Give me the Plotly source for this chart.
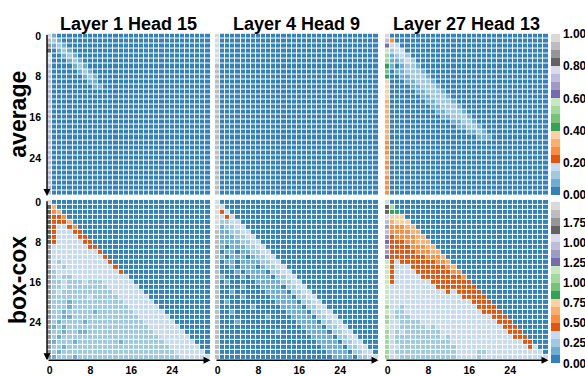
import plotly.graph_objects as go

# ---------------- data ----------------
TAB20C = ["#3182bd", "#6baed6", "#9ecae1", "#c6dbef", "#e6550d", "#fd8d3c", "#fdae6b", "#fdd0a2",
          "#31a354", "#74c476", "#a1d99b", "#c7e9c0", "#756bb1", "#9e9ac8", "#bcbddc", "#dadaeb",
          "#636363", "#969696", "#bdbdbd", "#d9d9d9"]
CODES = "0123456789abcdefghij"   # colour-bin index

col_titles = ["Layer 1 Head 15", "Layer 4 Head 9", "Layer 27 Head 13"]
row_titles = ["average", "box-cox"]
axis_ticks = [0, 8, 16, 24]
avg_range = [0.0, 1.0]
avg_ticks = [0.0, 0.2, 0.4, 0.6, 0.8, 1.0]
avg_ticktext = ["0.00", "0.20", "0.40", "0.60", "0.80", "1.00"]
bc_range = [0.0, 2.0]
bc_ticks = [0.0, 0.25, 0.5, 0.75, 1.0, 1.25, 1.5, 1.75]
bc_ticktext = ["0.00", "0.25", "0.50", "0.75", "1.00", "1.25", "1.00", "1.75"]

# rows: col0 | c1-8 | c9-16 | c17-24 | c25-31  (missing cells = bin 0)
avg_l1h15 = [
    "j 10000000", "i 21000000", "h 12100000", "g 01210000", "f 00121000", "f 00012100",
    "e 00001210", "e 00000121", "e 00000012 10000000", "e 00000001 10000000",
    "e 00000000 11000000", "e", "e", "e", "e", "e", "e", "e", "e", "e", "e", "e",
    "e", "e", "e", "e", "e", "e", "e", "e", "e", "e",
]
avg_l4h9 = [
    "j", "j", "j", "j", "j", "j", "i", "i", "i", "i", "i", "i", "i", "i", "i", "i",
    "i", "i", "i", "i", "i", "i", "i", "i", "i", "i", "i", "i", "i", "i", "i", "i",
]
avg_l27h13 = [
    "j", "e 50000000", "c 33000000", "b 23300000", "a 12320000", "a 11232000",
    "8 10122100", "9 01122210", "8 00112221", "7 00011222 10000000",
    "7 00001122 21000000", "7 00000112 22100000", "7 00000011 22210000",
    "6 00000001 12221000", "6 00000000 11222100", "6 00000000 01122210",
    "6 00000000 00112221", "6 00000000 00001122 10000000", "6 00000000 00000112 21000000",
    "6 00000000 00000001 12100000", "6 00000000 00000000 01110000",
    "5", "5", "5", "6", "5", "5", "6", "5", "5", "5", "5",
]
bc_l1h15 = [
    "j", "g 60000000", "g 56000000", "g 44500000", "g 44460000", "g 43345000",
    "g 43334400", "g 43333440", "g 43333344", "h 33333334 40000000",
    "h 33333333 34000000", "h 33333333 33400000", "h 32333333 33340000",
    "h 33233333 33334000", "h 23333333 33333400", "h 23223333 33333330",
    "h 22322232 22333333", "h 22322222 22233333 30000000",
    "h 23222222 22223333 33000000", "h 22222223 22222333 33300000",
    "h 22212222 22222233 33330000", "h 22212222 22222223 33333000",
    "h 22122222 12222222 33333300", "h 22112222 22222222 23333330",
    "h 21222212 22222222 22333333", "h 12122222 22222222 22233333 3000000",
    "h 22122112 22222222 22223333 3300000", "h 21222222 22222222 22222333 3330000",
    "h 12221222 22222122 22222233 3333000", "h 22122222 22222222 22222223 3333300",
    "h 21222222 22222222 22222222 3333330", "h 12221222 22222222 22222222 2333333",
]
bc_l4h9 = [
    "j", "j 30000000", "j 43000000", "j 34300000", "j 22330000", "j 12233000",
    "i 11223300", "i 11122330", "i 11112233", "i 10111223 30000000",
    "i 01101122 33000000", "i 10111012 23300000", "i 01101111 22330000",
    "i 00101110 12233000", "i 00010111 10223300", "i 10001011 11022330",
    "i 01000001 11112233", "i 00001000 11110223 30000000", "i 00100000 01111022 33000000",
    "i 00001000 00111102 23300000", "i 01000000 00011110 22330000",
    "i 00000010 00001111 02233000", "i 00100000 00000111 10223300",
    "i 00000000 01000011 11022330", "i 00010000 00000001 11102233",
    "i 00000000 00000000 11110223 3000000", "i 00000000 00010000 01111022 3300000",
    "i 00000000 00000000 00111102 2330000", "i 00000000 00000000 00011110 2233000",
    "i 00000000 00000000 00001111 0223300", "i 00000000 00000000 00000111 1022330",
    "i 00000000 00000000 00000011 1102233",
]
bc_l27h13 = [
    "j", "g a0000000", "g 88000000", "f 77700000", "e 67770000", "d 55566000",
    "e 55556600", "d 45555660", "c 44455666", "d 44445556 60000000",
    "d 44444555 66000000", "c 44444445 55600000", "b 43444444 45560000",
    "b 43334444 44456000", "b 43333444 44445500", "b 43333344 44444450",
    "b 43333333 44444444", "b 33333333 34444444 40000000", "b 33333333 33343444 44000000",
    "b 33333333 33333344 44400000", "b 33333333 33333333 44440000",
    "a 33233333 33333333 34444000", "b 32233333 33333333 33444400",
    "a 32223333 33333333 33334440", "a 33222233 33333333 33333444",
    "b 33222223 23333333 33333344 4000000", "a 32322222 22333333 33333334 4400000",
    "a 32222222 22323333 33333333 4440000", "a 32222222 22223333 33333333 3344000",
    "a 33222222 22222333 33333333 3334300", "a 32222222 22222333 32233333 3333330",
    "a 33222222 22222333 32333333 3333333",
]
panels = [avg_l1h15, avg_l4h9, avg_l27h13, bc_l1h15, bc_l4h9, bc_l27h13]
N = 32


def decode(rows, vrange):
    lo, hi = vrange
    step = (hi - lo) / len(TAB20C)
    z = []
    for s in rows:
        s = s.replace(" ", "")
        s = (s + "0" * N)[:N]
        z.append([lo + (CODES.index(ch) + 0.5) * step for ch in s])
    return z


def discrete_scale(colors):
    n = len(colors)
    sc = []
    for k, c in enumerate(colors):
        sc.append([k / n, c])
        sc.append([(k + 1) / n, c])
    return sc


# ---------------- layout geometry (pixels of a 585x376 page) ----------------
W, H = 585, 376
xdom_px = [(47, 210.5), (215, 378.5), (385, 548.5)]
ydom_px = [(30, 195), (199, 362)]
FONT = "Liberation Sans"

fig = go.Figure()
layout = dict(width=W, height=H, autosize=False, margin=dict(l=0, r=0, t=0, b=0),
              paper_bgcolor="white", plot_bgcolor="white", showlegend=False)
annotations = []

for i, rows in enumerate(panels):
    r, c = divmod(i, 3)
    ax_id = "" if i == 0 else str(i + 1)
    vr = avg_range if r == 0 else bc_range
    fig.add_trace(go.Heatmap(
        z=decode(rows, vr), x=list(range(N)), y=list(range(N)),
        coloraxis="coloraxis" if r == 0 else "coloraxis2",
        xgap=1, ygap=1, xaxis="x" + ax_id, yaxis="y" + ax_id, hoverinfo="skip"))
    x0, x1 = xdom_px[c]
    y0, y1 = ydom_px[r]
    layout["xaxis" + ax_id] = dict(
        domain=[x0 / W, x1 / W], range=[-0.5, N - 0.5], anchor="y" + ax_id,
        showgrid=False, zeroline=False, showline=False, ticks="",
        tickvals=axis_ticks, showticklabels=(r == 1), ticklabelstandoff=2,
        tickfont=dict(family=FONT, size=10.5, color="black", weight="bold"))
    layout["yaxis" + ax_id] = dict(
        domain=[1 - y1 / H, 1 - y0 / H], range=[N - 0.5, -0.5], anchor="x" + ax_id,
        showgrid=False, zeroline=False, showline=False, ticks="",
        tickvals=axis_ticks, showticklabels=(c == 0), ticklabelstandoff=5,
        tickfont=dict(family=FONT, size=10.5, color="black", weight="bold"))
    arrow = dict(text="", showarrow=True, arrowhead=2, arrowsize=1, arrowwidth=1.4,
                 arrowcolor="black", xref="x" + ax_id + " domain", yref="y" + ax_id + " domain",
                 axref="x" + ax_id + " domain", ayref="y" + ax_id + " domain")
    if c == 0:
        annotations.append(dict(arrow, x=0, y=0, ax=0, ay=1))
    if r == 1:
        annotations.append(dict(arrow, x=1, y=0, ax=0, ay=0))

for c, t in enumerate(col_titles):
    x0, x1 = xdom_px[c]
    annotations.append(dict(text=t, x=(x0 + x1) / 2 / W, y=1 - 20 / H, xref="paper", yref="paper",
                            xanchor="center", yanchor="middle", showarrow=False,
                            font=dict(family=FONT, size=18, color="black", weight="bold")))
for r, t in enumerate(row_titles):
    y0, y1 = ydom_px[r]
    annotations.append(dict(text=t, x=18 / W, y=1 - (y0 + y1) / 2 / H, xref="paper", yref="paper",
                            xanchor="center", yanchor="middle", showarrow=False, textangle=-90,
                            font=dict(family=FONT, size=23, color="black", weight="bold")))

cb_font = dict(family=FONT, size=12, color="black", weight="bold")
CB_X = 551
layout["coloraxis"] = dict(
    colorscale=discrete_scale(TAB20C), cmin=avg_range[0], cmax=avg_range[1],
    colorbar=dict(x=CB_X / W, xanchor="left", y=1 - 112.35 / H, yanchor="middle",
                  len=163.3 / H, lenmode="fraction", thickness=8.5, thicknessmode="pixels",
                  outlinewidth=0, xpad=0, ypad=0, ticks="", tickvals=avg_ticks,
                  ticktext=avg_ticktext, tickfont=cb_font))
layout["coloraxis2"] = dict(
    colorscale=discrete_scale(TAB20C), cmin=bc_range[0], cmax=bc_range[1],
    colorbar=dict(x=CB_X / W, xanchor="left", y=1 - 283.35 / H, yanchor="middle",
                  len=163.3 / H, lenmode="fraction", thickness=8.5, thicknessmode="pixels",
                  outlinewidth=0, xpad=0, ypad=0, ticks="", tickvals=bc_ticks,
                  ticktext=bc_ticktext, tickfont=cb_font))
layout["annotations"] = annotations
fig.update_layout(**layout)
fig.write_html("out.html")
